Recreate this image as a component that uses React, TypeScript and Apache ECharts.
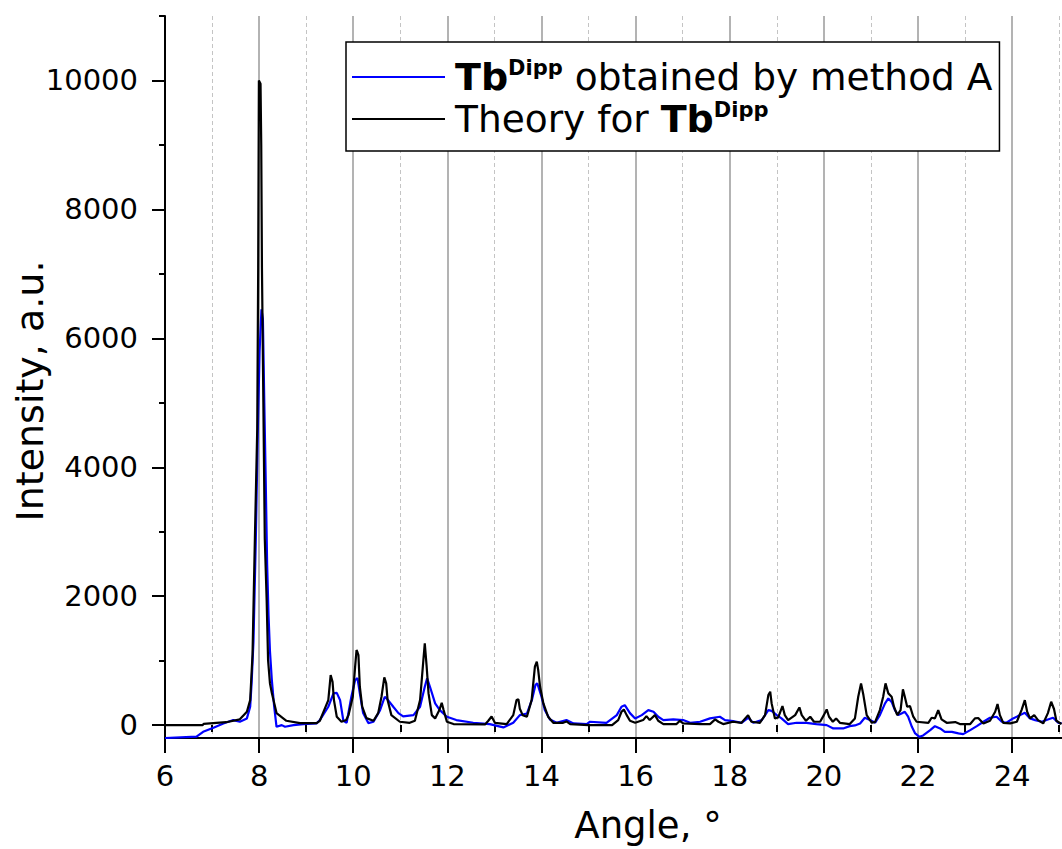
import React, { useEffect, useRef } from 'react';
import * as echarts from 'echarts';

const FONT = '"DejaVu Sans", Verdana, sans-serif';

const xMajorTicks = [6, 8, 10, 12, 14, 16, 18, 20, 22, 24];
const xMinorTicks = [7, 9, 11, 13, 15, 17, 19, 21, 23, 25];
const yMajorTicks = [0, 2000, 4000, 6000, 8000, 10000];
const yMinorTicks = [1000, 3000, 5000, 7000, 9000, 11000];

const SERIES_MEASURED = 'TbDipp obtained by method A';
const SERIES_THEORY = 'Theory for TbDipp';

// measured pattern (angle, intensity)
const measured: [number, number][] = [
  [6.0, -200], [6.67, -180], [6.81, -104], [7.03, -41], [7.24, 26], [7.45, 78], [7.59, 52],
  [7.74, 104], [7.81, 285], [7.84, 650], [7.88, 1300], [7.93, 2900], [7.97, 4500], [8.01, 5800],
  [8.05, 6450], [8.08, 6300], [8.11, 5000], [8.14, 3800], [8.17, 2500], [8.2, 1700], [8.23, 1150],
  [8.27, 700], [8.32, 285], [8.37, -26], [8.48, 0], [8.55, -26], [8.73, 0], [8.94, 16], [9.22, 26],
  [9.29, 78], [9.47, 285], [9.58, 492], [9.65, 500], [9.72, 388], [9.79, 67], [9.86, 36], [9.96, 440],
  [10.04, 699], [10.09, 730], [10.14, 492], [10.21, 186], [10.32, 31], [10.43, 52], [10.57, 233],
  [10.67, 440], [10.74, 388], [10.85, 285], [10.96, 186], [11.06, 135], [11.28, 155], [11.42, 285],
  [11.52, 595], [11.57, 725], [11.63, 595], [11.74, 337], [11.84, 233], [11.99, 130], [12.19, 78],
  [12.55, 36], [12.9, 16], [13.19, -36], [13.4, 36], [13.54, 155], [13.69, 180], [13.8, 400],
  [13.87, 620], [13.91, 650], [14.0, 440], [14.07, 233], [14.18, 88], [14.32, 36], [14.53, 78],
  [14.68, 26], [14.96, 16], [15.03, 52], [15.38, 36], [15.6, 155], [15.7, 285], [15.77, 310],
  [15.88, 186], [15.99, 104], [16.13, 155], [16.27, 233], [16.38, 207], [16.48, 130], [16.59, 78],
  [16.8, 88], [17.01, 78], [17.16, 36], [17.37, 52], [17.58, 104], [17.79, 130], [17.9, 78],
  [18.07, 62], [18.25, 36], [18.39, 114], [18.5, 36], [18.68, 78], [18.82, 233], [18.89, 220],
  [19.0, 155], [19.1, 104], [19.24, 16], [19.42, 36], [19.63, 36], [19.84, 16], [20.06, 0],
  [20.2, -52], [20.41, -52], [20.55, -16], [20.66, -5], [20.77, 26], [20.87, 114], [20.98, 78],
  [21.09, 36], [21.19, 155], [21.3, 337], [21.37, 414], [21.44, 360], [21.51, 233], [21.58, 155],
  [21.65, 180], [21.72, 207], [21.79, 130], [21.87, -26], [21.94, -129], [22.03, -181], [22.11, -160],
  [22.26, -78], [22.36, -16], [22.47, -52], [22.57, -104], [22.72, -104], [22.86, -129], [22.96, -140],
  [23.11, -78], [23.25, -16], [23.39, 52], [23.53, 114], [23.67, 130], [23.78, 52], [23.88, 36],
  [24.02, 104], [24.17, 155], [24.27, 191], [24.38, 104], [24.49, 78], [24.63, 52], [24.76, 88],
  [24.87, 114], [24.98, 36], [25.05, 30],
];

// theoretical pattern (angle, intensity)
const theory: [number, number][] = [
  [6.0, 0], [6.8, 0], [6.82, 18], [7.3, 45], [7.59, 90], [7.74, 207], [7.81, 388], [7.86, 1100],
  [7.91, 2900], [7.96, 4600], [7.98, 7100], [7.995, 10000], [8.03, 9950], [8.045, 9000], [8.06, 7100],
  [8.09, 5000], [8.12, 2900], [8.16, 1940], [8.19, 1009], [8.23, 650], [8.27, 497], [8.37, 186],
  [8.58, 67], [8.87, 31], [9.22, 31], [9.29, 67], [9.4, 264], [9.47, 388], [9.52, 776], [9.56, 673],
  [9.59, 388], [9.65, 129], [9.75, 52], [9.85, 80], [9.9, 155], [9.99, 440], [10.04, 906],
  [10.07, 1165], [10.09, 1130], [10.11, 1087], [10.14, 595], [10.19, 285], [10.28, 108], [10.43, 67],
  [10.53, 186], [10.6, 440], [10.66, 740], [10.7, 647], [10.73, 388], [10.81, 155], [10.99, 52],
  [11.2, 36], [11.31, 67], [11.42, 388], [11.49, 1009], [11.52, 1268], [11.56, 906], [11.6, 492],
  [11.67, 155], [11.74, 104], [11.83, 233], [11.88, 347], [11.92, 233], [11.99, 52], [12.13, 16],
  [12.8, 10], [12.87, 67], [12.94, 134], [13.01, 36], [13.26, 16], [13.4, 155], [13.47, 388],
  [13.51, 400], [13.54, 253], [13.6, 155], [13.69, 130], [13.79, 388], [13.86, 906], [13.9, 983],
  [13.93, 854], [13.97, 595], [14.04, 337], [14.14, 130], [14.25, 36], [14.46, 36], [14.53, 57],
  [14.61, 16], [15.0, 0], [15.5, 0], [15.63, 78], [15.7, 207], [15.75, 243], [15.81, 155],
  [15.88, 67], [15.99, 36], [16.16, 78], [16.23, 140], [16.3, 78], [16.41, 155], [16.48, 67],
  [16.59, 16], [16.87, 16], [16.94, 67], [17.01, 26], [17.37, 16], [17.58, 16], [17.69, 88],
  [17.76, 52], [17.86, 16], [18.07, 52], [18.25, 36], [18.39, 155], [18.46, 52], [18.64, 36],
  [18.75, 155], [18.82, 466], [18.86, 518], [18.89, 337], [18.96, 104], [19.03, 120], [19.12, 295],
  [19.17, 155], [19.24, 78], [19.39, 155], [19.48, 274], [19.53, 155], [19.62, 67], [19.71, 130],
  [19.79, 52], [19.92, 52], [20.0, 155], [20.06, 243], [20.11, 130], [20.19, 52], [20.26, 104],
  [20.34, 36], [20.55, 16], [20.66, 104], [20.73, 440], [20.79, 647], [20.84, 466], [20.91, 155],
  [21.02, 36], [21.09, 50], [21.19, 233], [21.26, 440], [21.31, 647], [21.37, 492], [21.44, 440],
  [21.49, 285], [21.56, 155], [21.63, 233], [21.68, 554], [21.72, 440], [21.77, 285], [21.83, 295],
  [21.9, 130], [21.97, 52], [22.22, 36], [22.29, 114], [22.36, 104], [22.43, 233], [22.5, 88],
  [22.61, 36], [22.79, 47], [22.89, 16], [23.11, 16], [23.21, 104], [23.28, 110], [23.39, 26],
  [23.53, 67], [23.64, 207], [23.69, 326], [23.74, 155], [23.81, 36], [23.96, 26], [24.1, 52],
  [24.2, 233], [24.27, 388], [24.32, 207], [24.38, 104], [24.47, 155], [24.55, 78], [24.66, 26],
  [24.76, 186], [24.83, 362], [24.89, 250], [24.94, 67], [25.05, 16],
];

export default function App() {
  const ref = useRef<HTMLDivElement>(null);
  useEffect(() => {
    if (!ref.current) return;
    const chart = echarts.init(ref.current, undefined, { renderer: 'svg' });
    const axisLineStyle = { color: '#000', width: 2 };
    const option: any = {
      animation: false,
      backgroundColor: '#fff',
      grid: { left: 165, top: 16, right: 0, bottom: 111, containLabel: false },
      legend: {
        left: 346,
        top: 42,
        orient: 'vertical',
        data: [SERIES_MEASURED, SERIES_THEORY],
        icon: 'rect',
        backgroundColor: '#fff',
        borderColor: '#000',
        borderWidth: 1.5,
        borderRadius: 0,
        padding: [15, 7, 13, 6],
        itemGap: 3,
        itemWidth: 93,
        itemHeight: 2,
        formatter: (name: string) =>
          name === SERIES_MEASURED
            ? '{b|Tb}{sup|Dipp}{n| obtained by method A}'
            : '{f|Theory for }{b2|Tb}{sup|Dipp}',
        textStyle: {
          fontFamily: FONT,
          fontSize: 38,
          color: '#000',
          rich: {
            b: { fontFamily: FONT, fontSize: 38, fontWeight: 'bold', color: '#000', lineHeight: 40, padding: [0, 0, 0, 5] },
            b2: { fontFamily: FONT, fontSize: 38, fontWeight: 'bold', color: '#000', lineHeight: 40 },
            sup: { fontFamily: FONT, fontSize: 21, fontWeight: 'bold', color: '#000', lineHeight: 22, verticalAlign: 'top' },
            n: { fontFamily: FONT, fontSize: 37.5, color: '#000', lineHeight: 40 },
            f: { fontFamily: FONT, fontSize: 37.5, color: '#000', lineHeight: 40, padding: [0, 0, 0, 5] },
          },
        },
      },
      xAxis: [
        {
          type: 'value',
          min: 6,
          max: 25.06,
          interval: 2,
          position: 'bottom',
          axisLine: { show: true, onZero: false, lineStyle: axisLineStyle },
          axisTick: { show: true, customValues: xMajorTicks, length: 15, lineStyle: axisLineStyle },
          axisLabel: {
            customValues: xMajorTicks,
            formatter: (v: number) => String(v),
            fontFamily: FONT,
            fontSize: 29,
            color: '#000',
            margin: 23,
          },
          splitLine: { show: true, lineStyle: { color: '#9a9a9a', width: 1.5 } },
        },
        {
          type: 'value',
          min: 6,
          max: 25.06,
          position: 'bottom',
          axisLine: { show: false },
          axisTick: { show: true, customValues: xMinorTicks, length: 7, lineStyle: axisLineStyle },
          axisLabel: { show: false },
          splitLine: { show: true, lineStyle: { color: '#c4c4c4', width: 1, type: [4, 3] } },
        },
      ],
      yAxis: [
        {
          type: 'value',
          min: -200,
          max: 11000,
          position: 'left',
          axisLine: { show: true, onZero: false, lineStyle: axisLineStyle },
          axisTick: { show: true, customValues: yMajorTicks, length: 13, lineStyle: axisLineStyle },
          axisLabel: {
            customValues: yMajorTicks,
            formatter: (v: number) => String(v),
            fontFamily: FONT,
            fontSize: 29,
            color: '#000',
            margin: 27,
          },
          splitLine: { show: false },
        },
        {
          type: 'value',
          min: -200,
          max: 11000,
          position: 'left',
          axisLine: { show: false },
          axisTick: { show: true, customValues: yMinorTicks, length: 6, lineStyle: axisLineStyle },
          axisLabel: { show: false },
          splitLine: { show: false },
        },
      ],
      graphic: [
        {
          type: 'text',
          x: 648,
          y: 825,
          style: { text: 'Angle, °', font: `37px ${FONT}`, fill: '#000', textAlign: 'center', textVerticalAlign: 'middle' },
        },
        {
          type: 'text',
          x: 30,
          y: 391,
          rotation: Math.PI / 2,
          style: { text: 'Intensity, a.u.', font: `38px ${FONT}`, fill: '#000', textAlign: 'center', textVerticalAlign: 'middle' },
        },
      ],
      series: [
        {
          name: SERIES_MEASURED,
          type: 'line',
          xAxisIndex: 0,
          yAxisIndex: 0,
          data: measured,
          symbol: 'none',
          showSymbol: false,
          clip: true,
          lineStyle: { color: '#0000ff', width: 2.2 },
          itemStyle: { color: '#0000ff' },
        },
        {
          name: SERIES_THEORY,
          type: 'line',
          xAxisIndex: 0,
          yAxisIndex: 0,
          data: theory,
          symbol: 'none',
          showSymbol: false,
          clip: true,
          lineStyle: { color: '#000', width: 2.2 },
          itemStyle: { color: '#000' },
        },
      ],
    };
    chart.setOption(option);
    return () => chart.dispose();
  }, []);
  return <div ref={ref} style={{ width: 1062, height: 849, position: 'absolute', left: 0, top: 0 }} />;
}
